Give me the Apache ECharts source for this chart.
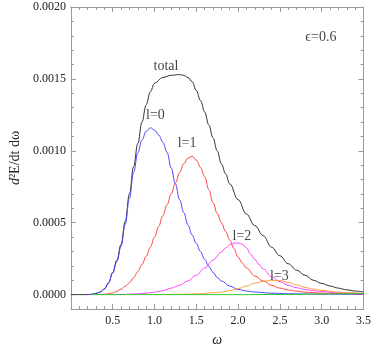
<!DOCTYPE html>
<html>
<head>
<meta charset="utf-8">
<script src="https://cdn.jsdelivr.net/npm/echarts@6/dist/echarts.min.js"></script>
<style>
html, body { margin: 0; padding: 0; background: #fff; }
#chart { width: 374px; height: 352px; }
</style>
</head>
<body>
<div id="chart"></div>
<script>
// spectra, values in units of 1e-4
const omegaTotal = [0, 0.2, 0.25, 0.3, 0.35, 0.4, 0.45, 0.5, 0.55, 0.6, 0.65, 0.7, 0.75, 0.8, 0.85, 0.9, 0.95, 1.0, 1.1, 1.2, 1.3, 1.35, 1.4, 1.45, 1.5, 1.55, 1.6, 1.65, 1.7, 1.75, 1.8, 1.85, 1.9, 2.0, 2.1, 2.2, 2.3, 2.4, 2.5, 2.6, 2.7, 2.8, 2.9, 3.0, 3.1, 3.2, 3.3, 3.4, 3.5];
const total = [0, 0, 0.02, 0.08, 0.18, 0.4, 0.82, 1.55, 2.4, 3.5, 5.1, 7.0, 8.9, 10.5, 12.0, 13.2, 14.1, 14.7, 15.1, 15.25, 15.3, 15.25, 15.1, 14.8, 14.2, 13.5, 12.7, 11.8, 10.9, 10.0, 9.1, 8.4, 7.7, 6.6, 5.6, 4.8, 4.1, 3.3, 2.7, 2.15, 1.7, 1.35, 1.0, 0.78, 0.6, 0.45, 0.33, 0.25, 0.18];

const omegaL0 = [0.2, 0.25, 0.3, 0.35, 0.4, 0.45, 0.5, 0.55, 0.6, 0.65, 0.7, 0.75, 0.8, 0.85, 0.9, 0.95, 1.0, 1.05, 1.1, 1.15, 1.2, 1.25, 1.3, 1.35, 1.4, 1.45, 1.5, 1.55, 1.6, 1.65, 1.7, 1.75, 1.8, 1.9, 2.0, 2.1, 2.2, 2.4, 2.6, 3.0, 3.5];
const l0 = [0, 0.02, 0.08, 0.18, 0.38, 0.8, 1.5, 2.3, 3.35, 4.9, 6.7, 8.5, 9.85, 10.75, 11.35, 11.6, 11.45, 11.1, 10.6, 9.9, 8.8, 7.7, 6.6, 5.7, 4.85, 4.15, 3.55, 3.0, 2.45, 1.95, 1.55, 1.2, 0.95, 0.6, 0.36, 0.25, 0.18, 0.1, 0.06, 0.03, 0.01];

const omegaL1 = [0.3, 0.4, 0.45, 0.5, 0.55, 0.6, 0.65, 0.7, 0.75, 0.8, 0.85, 0.9, 0.95, 1.0, 1.05, 1.1, 1.15, 1.2, 1.25, 1.3, 1.35, 1.4, 1.45, 1.5, 1.55, 1.6, 1.65, 1.7, 1.75, 1.8, 1.85, 1.9, 1.95, 2.0, 2.05, 2.1, 2.2, 2.3, 2.4, 2.5, 2.6, 2.7, 2.8, 3.0, 3.5];
const l1 = [0, 0.02, 0.06, 0.12, 0.23, 0.38, 0.58, 0.82, 1.18, 1.6, 2.1, 2.65, 3.3, 4.0, 4.75, 5.5, 6.25, 7.0, 7.75, 8.5, 9.1, 9.5, 9.62, 9.35, 8.85, 8.2, 7.3, 6.4, 5.65, 5.0, 4.4, 3.8, 3.2, 2.6, 2.2, 1.85, 1.3, 0.95, 0.65, 0.45, 0.32, 0.24, 0.17, 0.1, 0.04];

const omegaL2 = [0.5, 0.6, 0.7, 0.8, 0.9, 1.0, 1.1, 1.2, 1.3, 1.4, 1.5, 1.6, 1.7, 1.8, 1.85, 1.9, 1.95, 2.0, 2.05, 2.1, 2.15, 2.2, 2.25, 2.3, 2.4, 2.5, 2.6, 2.7, 2.8, 2.9, 3.0, 3.2, 3.5];
const l2 = [0, 0.01, 0.03, 0.06, 0.1, 0.17, 0.28, 0.45, 0.65, 0.95, 1.35, 1.85, 2.4, 2.95, 3.25, 3.45, 3.58, 3.6, 3.5, 3.25, 2.8, 2.45, 2.1, 1.78, 1.25, 0.9, 0.65, 0.48, 0.36, 0.27, 0.21, 0.13, 0.07];

const omegaL3 = [1.0, 1.3, 1.5, 1.7, 1.8, 1.9, 2.0, 2.1, 2.2, 2.3, 2.4, 2.5, 2.6, 2.7, 2.8, 2.9, 3.0, 3.2, 3.4, 3.5];
const l3 = [0, 0.02, 0.05, 0.13, 0.18, 0.28, 0.42, 0.6, 0.8, 0.93, 0.99, 0.98, 0.86, 0.68, 0.5, 0.38, 0.3, 0.17, 0.11, 0.09];

const omegaL4 = [0.25, 2.0, 2.5, 3.0, 3.5];
const l4 = [0, 0, 0.01, 0.04, 0.08];

// curve labels (text, omega, value in 1e-4)
const labelText = ['total', 'l=0', 'l=1', 'l=2', 'l=3', '\u03f5=0.6'];
const labelOmega = [1.138, 1.011, 1.39, 2.046, 2.494, 2.99];
const labelValue = [15.86, 12.46, 10.53, 4.03, 1.27, 17.86];

const yMajor = [0, 0.0005, 0.001, 0.0015, 0.002];

const serif = 'Liberation Serif';
const frameColor = '#9a9a9a';

function pairs(xs, ys) {
  return xs.map((x, i) => [x, ys[i] * 1e-4]);
}

function curve(name, xs, ys, color) {
  return {
    name: name,
    type: 'line',
    data: pairs(xs, ys),
    showSymbol: false,
    smooth: 0.4,
    smoothMonotone: 'x',
    lineStyle: { color: color, width: 1 },
    silent: true,
    z: 3
  };
}

const chart = echarts.init(document.getElementById('chart'));

const xBase = { type: 'value', min: 0, max: 3.5, splitLine: { show: false } };
const yBase = { type: 'value', min: -0.0001, max: 0.002, splitLine: { show: false } };

chart.setOption({
  animation: false,
  backgroundColor: '#fff',
  grid: { left: 62, right: 8, top: 7, bottom: 42 },
  xAxis: [
    Object.assign({}, xBase, {
      position: 'bottom',
      interval: 0.5,
      axisLine: { onZero: false, lineStyle: { color: frameColor, width: 1 } },
      axisTick: { inside: true, length: 5, lineStyle: { color: frameColor } },
      axisLabel: {
        color: '#222', fontFamily: serif, fontSize: 12, margin: 6,
        formatter: v => (v === 0 ? '' : v.toFixed(1))
      },
      name: '\u03c9',
      nameLocation: 'middle',
      nameGap: 24,
      nameTextStyle: { fontFamily: serif, fontSize: 14, fontStyle: 'italic', color: '#222' }
    }),
    Object.assign({}, xBase, {
      position: 'bottom', interval: 0.1,
      axisLine: { show: false, onZero: false },
      axisTick: { inside: true, length: 3, lineStyle: { color: frameColor } },
      axisLabel: { show: false }
    }),
    Object.assign({}, xBase, {
      position: 'top', interval: 0.5,
      axisLine: { onZero: false, lineStyle: { color: frameColor, width: 1 } },
      axisTick: { inside: true, length: 5, lineStyle: { color: frameColor } },
      axisLabel: { show: false }
    }),
    Object.assign({}, xBase, {
      position: 'top', interval: 0.1,
      axisLine: { show: false, onZero: false },
      axisTick: { inside: true, length: 3, lineStyle: { color: frameColor } },
      axisLabel: { show: false }
    })
  ],
  yAxis: [
    Object.assign({}, yBase, {
      position: 'left',
      interval: 0.0001,
      axisLine: { show: true, onZero: false, lineStyle: { color: frameColor, width: 1 } },
      axisTick: { inside: true, length: 5, customValues: yMajor, lineStyle: { color: frameColor } },
      axisLabel: {
        customValues: yMajor,
        color: '#222', fontFamily: serif, fontSize: 12, margin: 5,
        formatter: v => v.toFixed(4)
      },
      name: '{i|d}{n|\u00b2E/dt d\u03c9}',
      nameLocation: 'middle',
      nameRotate: 90,
      nameGap: 44,
      nameTextStyle: {
        color: '#222',
        rich: {
          i: { fontFamily: serif, fontSize: 14, fontStyle: 'italic', color: '#222' },
          n: { fontFamily: serif, fontSize: 14, color: '#222' }
        }
      }
    }),
    Object.assign({}, yBase, {
      position: 'left', interval: 0.0001,
      axisLine: { show: false, onZero: false },
      axisTick: { inside: true, length: 3, lineStyle: { color: frameColor } },
      axisLabel: { show: false }
    }),
    Object.assign({}, yBase, {
      position: 'right', interval: 0.0001,
      axisLine: { show: true, onZero: false, lineStyle: { color: frameColor, width: 1 } },
      axisTick: { inside: true, length: 5, customValues: yMajor, lineStyle: { color: frameColor } },
      axisLabel: { show: false }
    }),
    Object.assign({}, yBase, {
      position: 'right', interval: 0.0001,
      axisLine: { show: false, onZero: false },
      axisTick: { inside: true, length: 3, lineStyle: { color: frameColor } },
      axisLabel: { show: false }
    })
  ],
  series: [
    curve('total', omegaTotal, total, '#333333'),
    curve('l=0', omegaL0, l0, '#4a4aff'),
    curve('l=1', omegaL1, l1, '#ff4545'),
    curve('l=2', omegaL2, l2, '#ff45ff'),
    curve('l=3', omegaL3, l3, '#ffa040'),
    curve('l=4', omegaL4, l4, '#2ccc2c'),
    {
      name: 'labels',
      type: 'scatter',
      symbolSize: 0,
      silent: true,
      z: 5,
      data: labelText.map((t, i) => ({ name: t, value: [labelOmega[i], labelValue[i] * 1e-4] })),
      label: {
        show: true,
        position: 'inside',
        formatter: '{b}',
        fontFamily: serif,
        fontSize: 14,
        color: '#111'
      }
    }
  ]
});
</script>
</body>
</html>
